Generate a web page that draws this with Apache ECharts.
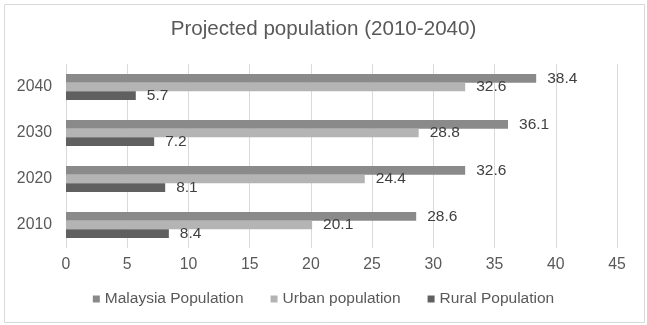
<!DOCTYPE html>
<html>
<head>
<meta charset="utf-8">
<script src="https://cdn.jsdelivr.net/npm/echarts@6/dist/echarts.min.js"></script>
<style>
html,body{margin:0;padding:0;background:#fff;}
#chart{width:647px;height:325px;}
</style>
</head>
<body>
<div id="chart"></div>
<script>
var categories = ['2010', '2020', '2030', '2040'];
var malaysiaPopulation = [28.6, 32.6, 36.1, 38.4];
var urbanPopulation = [20.1, 24.4, 28.8, 32.6];
var ruralPopulation = [8.4, 8.1, 7.2, 5.7];
var seriesNames = ['Malaysia Population', 'Urban population', 'Rural Population'];
var xTicks = { min: 0, max: 45, interval: 5 };

var FONT = '"Liberation Sans", Arial, sans-serif';
var colors = ['#8a8a8a', '#b4b4b4', '#606060'];

function mkSeries(name, data, color) {
  return {
    name: name,
    type: 'bar',
    data: data,
    barWidth: 8.7,
    barGap: '0%',
    itemStyle: { color: color },
    label: {
      show: true,
      position: 'right',
      distance: 11,
      color: '#404040',
      fontSize: 15.5,
      fontFamily: FONT
    },
    emphasis: { disabled: true }
  };
}

var chart = echarts.init(document.getElementById('chart'), null, { renderer: 'canvas' });
chart.setOption({
  animation: false,
  backgroundColor: '#ffffff',
  color: colors,
  title: {
    text: 'Projected population (2010-2040)',
    left: 'center',
    top: 19,
    padding: 0,
    textStyle: { color: '#595959', fontSize: 20.6, fontWeight: 'normal', fontFamily: FONT }
  },
  legend: {
    data: seriesNames,
    left: 'center',
    top: 291,
    padding: 0,
    itemWidth: 7,
    itemHeight: 7,
    itemGap: 27,
    icon: 'rect',
    textStyle: { color: '#595959', fontSize: 15.5, fontFamily: FONT }
  },
  grid: { left: 66, right: 30, top: 64, bottom: 77, containLabel: false },
  xAxis: {
    type: 'value',
    min: xTicks.min,
    max: xTicks.max,
    interval: xTicks.interval,
    axisLine: { show: false },
    axisTick: { show: false },
    splitLine: { show: true, lineStyle: { color: '#d9d9d9', width: 1 } },
    axisLabel: { color: '#595959', fontSize: 15.8, fontFamily: FONT, margin: 9 }
  },
  yAxis: {
    type: 'category',
    data: categories,
    axisLine: { show: false },
    axisTick: { show: false },
    axisLabel: { color: '#595959', fontSize: 15.8, fontFamily: FONT, margin: 14 }
  },
  graphic: [{
    type: 'rect',
    silent: true,
    shape: { x: 4.5, y: 4.5, width: 640, height: 318 },
    style: { fill: null, stroke: '#d9d9d9', lineWidth: 1 }
  }],
  series: [
    mkSeries(seriesNames[0], malaysiaPopulation, colors[0]),
    mkSeries(seriesNames[1], urbanPopulation, colors[1]),
    mkSeries(seriesNames[2], ruralPopulation, colors[2])
  ]
});
</script>
</body>
</html>
